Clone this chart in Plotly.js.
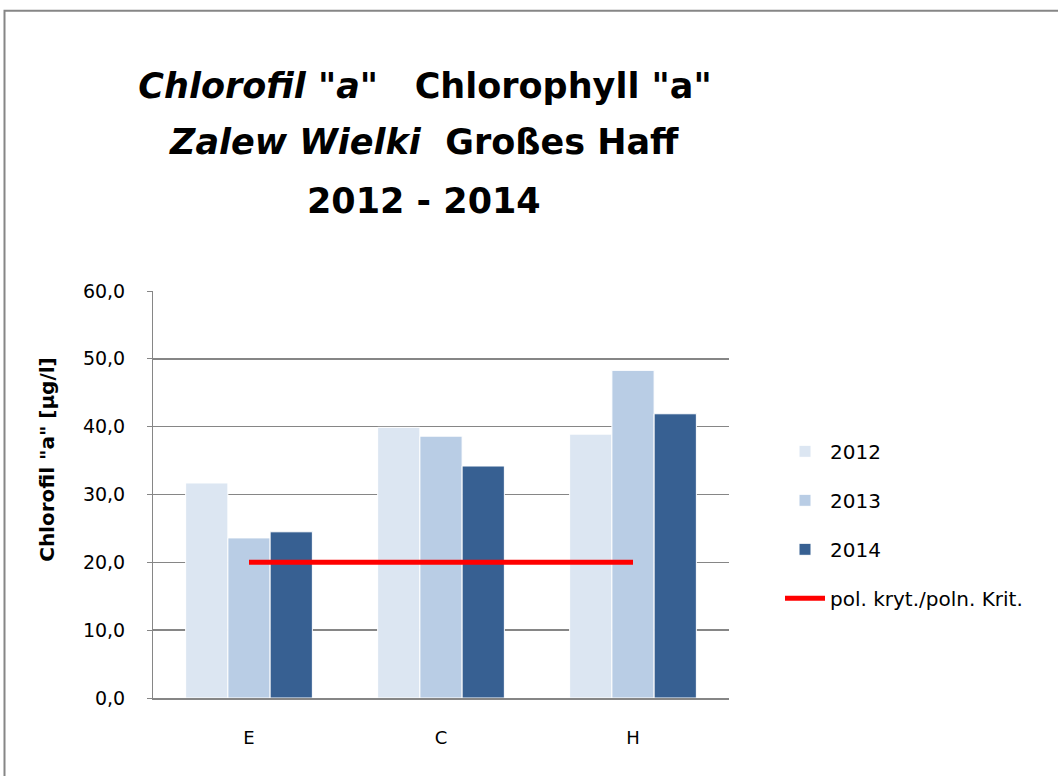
<!DOCTYPE html>
<html>
<head>
<meta charset="utf-8">
<script src="https://cdn.plot.ly/plotly-3.0.1.min.js"></script>
<style>html,body{margin:0;padding:0;background:#fff;}#chart{width:1058px;height:776px;}</style>
</head>
<body>
<div id="chart"></div>
<script>
const categories = ["E", "C", "H"];
const seriesNames = ["2012", "2013", "2014"];
const values2012 = [31.7, 39.9, 38.9];
const values2013 = [23.6, 38.6, 48.3];
const values2014 = [24.5, 34.2, 41.9];
const criterion = [20, 20, 20];
const criterionName = "pol. kryt./poln. Krit.";
const yTicks = [0, 10, 20, 30, 40, 50, 60];
const titleLines = [
  "<i>Chlorofil \"a\"</i>\u00a0\u00a0\u00a0Chlorophyll \"a\"",
  "<i>Zalew Wielki</i>\u00a0\u00a0Großes Haff",
  "2012 - 2014"
];
const yAxisTitle = "Chlorofil \"a\" [µg/l]";

const barColors = ["#DCE6F2", "#B9CDE5", "#376092"];
const barValues = [values2012, values2013, values2014];

const traces = barValues.map((vals, i) => ({
  type: "bar",
  name: seriesNames[i],
  x: categories,
  y: vals,
  legendgroup: "g" + i,
  marker: {color: barColors[i], line: {color: "#ffffff", width: 1}},
  hoverinfo: "x+y+name"
}));
traces.push({
  type: "scatter",
  mode: "lines",
  name: criterionName,
  x: categories,
  y: criterion,
  legendgroup: "g3",
  line: {color: "#FF0000", width: 5}
});

const W = 1058, H = 776, L = 153, R = 329, T = 291, B = 77.5;
const pw = W - L - R, ph = H - T - B;
const px = v => (v - L) / pw;
const py = v => (H - B - v) / ph;

const titleFont = {family: "DejaVu Sans", size: 35, weight: "bold", color: "#000000"};

const layout = {
  width: W, height: H,
  margin: {l: L, r: R, t: T, b: B, pad: 0},
  paper_bgcolor: "#ffffff",
  plot_bgcolor: "#ffffff",
  separators: ",.",
  barmode: "group",
  bargap: 0.34,
  bargroupgap: 0,
  font: {family: "DejaVu Sans", color: "#000000"},
  title: {
    text: titleLines[0],
    font: titleFont,
    x: 425 / W, xanchor: "center", xref: "container",
    y: 1 - 86 / H, yanchor: "middle", yref: "container"
  },
  xaxis: {
    type: "category",
    showline: true, linecolor: "#868686", linewidth: 2,
    ticks: "", showgrid: false,
    tickfont: {family: "DejaVu Sans", size: 18, color: "#000000"},
    ticklabelstandoff: 22
  },
  yaxis: {
    range: [0, 60],
    tickvals: yTicks,
    tickformat: ".1f",
    showline: true, linecolor: "#868686", linewidth: 1,
    ticks: "outside", ticklen: 5, tickcolor: "#868686",
    showgrid: true, gridcolor: "#868686", gridwidth: 1.5,
    zeroline: false,
    tickfont: {family: "DejaVu Sans", size: 19, color: "#000000"},
    ticklabelstandoff: 18
  },
  showlegend: true,
  legend: {
    x: px(780), xanchor: "left",
    y: py(432), yanchor: "top",
    traceorder: "grouped",
    tracegroupgap: 20,
    font: {family: "DejaVu Sans", size: 20, color: "#000000"},
    bgcolor: "rgba(0,0,0,0)",
    itemwidth: 40
  },
  annotations: [
    {
      text: titleLines[1],
      xref: "paper", yref: "paper",
      x: px(424), y: py(142), xanchor: "center", yanchor: "middle",
      showarrow: false, font: titleFont
    },
    {
      text: titleLines[2],
      xref: "paper", yref: "paper",
      x: px(424), y: py(201), xanchor: "center", yanchor: "middle",
      showarrow: false, font: titleFont
    },
    {
      text: yAxisTitle,
      xref: "paper", yref: "paper",
      x: px(47), y: py(460),
      xanchor: "center", yanchor: "middle",
      textangle: -90, showarrow: false,
      font: {family: "DejaVu Sans", size: 20, weight: "bold", color: "#000000"}
    }
  ],
  shapes: [{
    type: "path", xref: "paper", yref: "paper",
    path: "M " + px(4.5) + "," + py(800) + " L " + px(4.5) + "," + py(10.5) + " L " + px(1100) + "," + py(10.5),
    line: {color: "#868686", width: 2}
  }]
};

Plotly.newPlot("chart", traces, layout, {displayModeBar: false, staticPlot: true});
</script>
</body>
</html>
